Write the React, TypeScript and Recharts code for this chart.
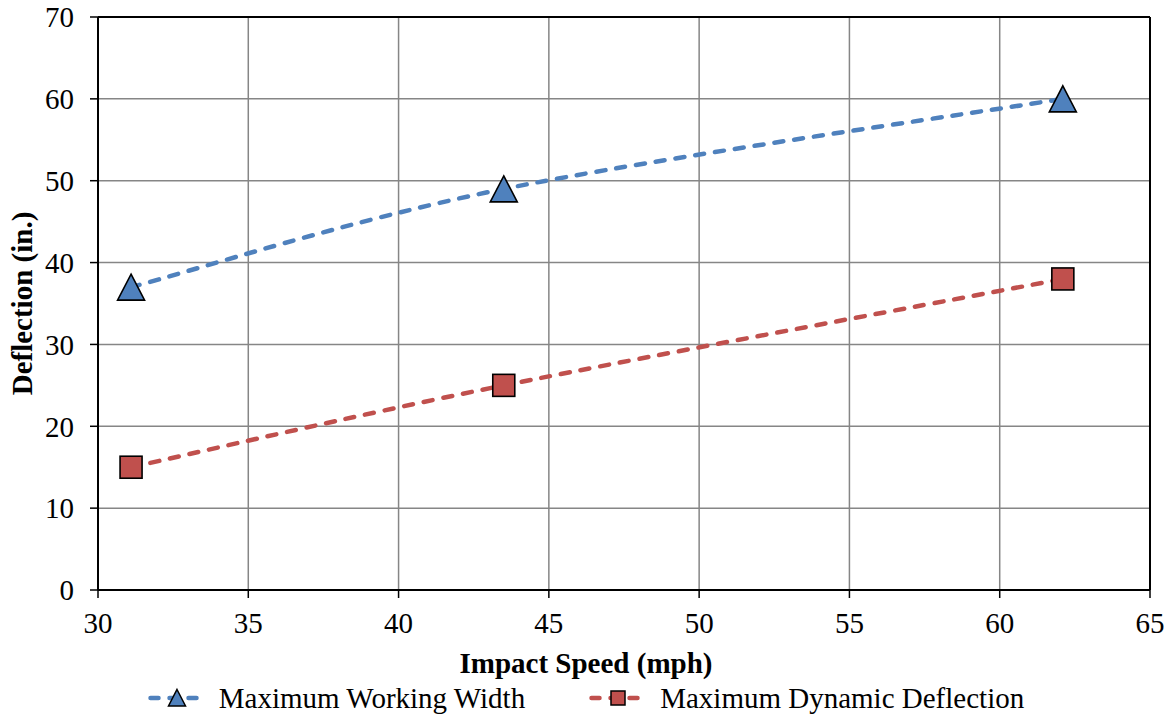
import React from "react";
import {
  LineChart,
  Line,
  XAxis,
  YAxis,
  CartesianGrid,
  ReferenceLine,
  Legend,
  Label,
} from "recharts";

const speeds = [31.1, 43.5, 62.1];
const workingWidth = [37, 49, 60];
const dynamicDeflection = [15, 25, 38];
const xTicks = [30, 35, 40, 45, 50, 55, 60, 65];
const yTicks = [0, 10, 20, 30, 40, 50, 60, 70];
const seriesNames = ["Maximum Working Width", "Maximum Dynamic Deflection"];
const xTitle = "Impact Speed (mph)";
const yTitle = "Deflection (in.)";

const data = speeds.map((s, i) => ({
  speed: s,
  width: workingWidth[i],
  deflection: dynamicDeflection[i],
}));

const W = 1172;
const H = 717;
const FONT = "'Liberation Serif', 'Times New Roman', serif";
const FS = 29;
const BLUE = "#4F81BD";
const RED = "#C0504D";
const GRID = "#868686";

// Excel-like smoothed line (Catmull-Rom style Bezier)
const excelCurve: any = (context: any) => {
  let pts: number[][] = [];
  const flush = () => {
    if (!pts.length) return;
    context.moveTo(pts[0][0], pts[0][1]);
    for (let i = 0; i < pts.length - 1; i++) {
      const p0 = pts[i - 1] || pts[i];
      const p1 = pts[i];
      const p2 = pts[i + 1];
      const p3 = pts[i + 2] || p2;
      context.bezierCurveTo(
        p1[0] + (p2[0] - p0[0]) / 6,
        p1[1] + (p2[1] - p0[1]) / 6,
        p2[0] - (p3[0] - p1[0]) / 6,
        p2[1] - (p3[1] - p1[1]) / 6,
        p2[0],
        p2[1]
      );
    }
  };
  return {
    areaStart() {},
    areaEnd() {},
    lineStart() {
      pts = [];
    },
    point(x: number, y: number) {
      pts.push([+x, +y]);
    },
    lineEnd() {
      flush();
    },
  };
};

const TriangleDot = (props: any) => {
  const { cx, cy, index } = props;
  if (cx == null || cy == null) return <g key={`t-${index}`} />;
  const w = 27;
  const h = 26;
  const d = `M${cx},${cy - h / 2} L${cx + w / 2},${cy + h / 2} L${cx - w / 2},${cy + h / 2} Z`;
  return <path key={`t-${index}`} d={d} fill={BLUE} stroke="#000" strokeWidth={1.6} />;
};

const SquareDot = (props: any) => {
  const { cx, cy, index } = props;
  if (cx == null || cy == null) return <g key={`s-${index}`} />;
  const s = 22;
  return (
    <rect
      key={`s-${index}`}
      x={cx - s / 2}
      y={cy - s / 2}
      width={s}
      height={s}
      fill={RED}
      stroke="#000"
      strokeWidth={1.6}
    />
  );
};

const LegendContent = () => {
  const items = [
    { name: seriesNames[0], color: BLUE, shape: "tri" },
    { name: seriesNames[1], color: RED, shape: "sq" },
  ];
  return (
    <div
      style={{
        display: "flex",
        justifyContent: "center",
        alignItems: "center",
        gap: 64,
        fontFamily: FONT,
        fontSize: FS,
        color: "#000",
        lineHeight: "32px",
      }}
    >
      {items.map((it) => (
        <div key={it.name} style={{ display: "flex", alignItems: "center" }}>
          <svg width={58} height={24} style={{ marginRight: 13 }}>
            <line
              x1={2.5}
              y1={12}
              x2={55.5}
              y2={12}
              stroke={it.color}
              strokeWidth={4.5}
              strokeDasharray="8 11"
              strokeLinecap="round"
            />
            {it.shape === "tri" ? (
              <path d="M29,3.5 L37.5,20 L20.5,20 Z" fill={it.color} stroke="#000" strokeWidth={1.5} />
            ) : (
              <rect x={22} y={5} width={14} height={14} fill={it.color} stroke="#000" strokeWidth={1.5} />
            )}
          </svg>
          <span>{it.name}</span>
        </div>
      ))}
    </div>
  );
};

export default function App() {
  const tickStyle = { fontFamily: FONT, fontSize: FS, fill: "#000" };
  return (
    <div style={{ position: "absolute", left: 0, top: 0, width: W, height: H, background: "#fff" }}>
      <LineChart
        width={W}
        height={H}
        data={data}
        margin={{ top: 17, right: 22, left: 0, bottom: 0 }}
      >
        <CartesianGrid stroke={GRID} strokeWidth={1.5} />
        <XAxis
          dataKey="speed"
          type="number"
          domain={[30, 65]}
          ticks={xTicks}
          interval={0}
          height={127}
          tick={tickStyle}
          tickSize={8}
          tickMargin={14}
          axisLine={{ stroke: "#000", strokeWidth: 2 }}
          tickLine={{ stroke: "#000", strokeWidth: 1.5 }}
        >
          <Label
            content={() => (
              <text
                x={W / 2}
                y={673}
                textAnchor="middle"
                fontFamily={FONT}
                fontSize={FS}
                fontWeight="bold"
                fill="#000"
              >
                {xTitle}
              </text>
            )}
          />
        </XAxis>
        <YAxis
          type="number"
          domain={[0, 70]}
          ticks={yTicks}
          interval={0}
          width={98}
          tick={tickStyle}
          tickSize={8}
          tickMargin={16}
          axisLine={{ stroke: "#000", strokeWidth: 2 }}
          tickLine={{ stroke: "#000", strokeWidth: 1.5 }}
        >
          <Label
            content={() => (
              <text
                x={32}
                y={303.5}
                transform="rotate(-90, 32, 303.5)"
                textAnchor="middle"
                fontFamily={FONT}
                fontSize={FS}
                fontWeight="bold"
                fill="#000"
              >
                {yTitle}
              </text>
            )}
          />
        </YAxis>
        <ReferenceLine y={70} stroke="#000" strokeWidth={2} />
        <ReferenceLine x={65} stroke="#000" strokeWidth={2} />
        <Line
          dataKey="width"
          name={seriesNames[0]}
          type={excelCurve}
          stroke={BLUE}
          strokeWidth={4.5}
          strokeDasharray="9 11"
          strokeLinecap="round"
          dot={TriangleDot}
          activeDot={false}
          isAnimationActive={false}
        />
        <Line
          dataKey="deflection"
          name={seriesNames[1]}
          type={excelCurve}
          stroke={RED}
          strokeWidth={4.5}
          strokeDasharray="9 11"
          strokeLinecap="round"
          dot={SquareDot}
          activeDot={false}
          isAnimationActive={false}
        />
        <Legend
          layout="horizontal"
          verticalAlign="middle"
          align="center"
          content={LegendContent}
          wrapperStyle={{ position: "absolute", left: 0, top: 682, width: W }}
        />
      </LineChart>
    </div>
  );
}
